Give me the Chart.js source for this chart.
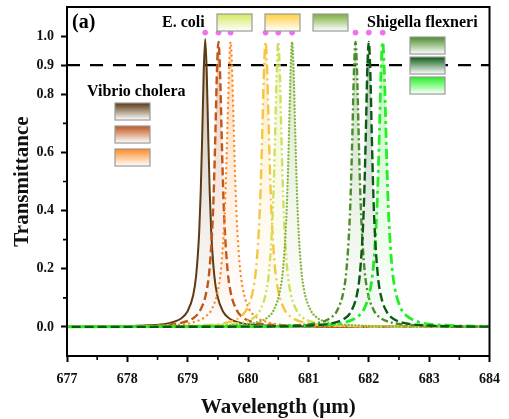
<!DOCTYPE html>
<html>
<head>
<meta charset="utf-8">
<script src="https://cdn.jsdelivr.net/npm/chart.js@4.4.1/dist/chart.umd.min.js"></script>
<style>
  html, body { margin: 0; padding: 0; background: #fff; }
  #wrap { width: 509px; height: 419px; position: relative; }
</style>
</head>
<body>
<div id="wrap"><canvas id="transChart"></canvas></div>
<script>
// wavelength offsets (um) around each resonance, shared by all curves
const offsets = [-6, -2, -1, -0.6, -0.4, -0.3, -0.2, -0.15, -0.1, -0.075, -0.05, -0.025, 0,
                 0.025, 0.05, 0.075, 0.1, 0.15, 0.2, 0.3, 0.4, 0.6, 1, 2, 6];

// resonance centres (um)
const peakCenters = [679.29, 679.51, 679.71, 680.29, 680.50, 680.73, 681.78, 682.00, 682.23];

// transmittance values for each curve
const vibrio1 = [0, 0.001, 0.005, 0.013, 0.029, 0.051, 0.108, 0.177, 0.326, 0.461, 0.656, 0.878, 0.99,
                 0.878, 0.656, 0.461, 0.326, 0.177, 0.108, 0.051, 0.029, 0.013, 0.005, 0.001, 0];
const vibrio2 = [0, 0.001, 0.006, 0.015, 0.033, 0.058, 0.121, 0.196, 0.353, 0.49, 0.679, 0.882, 0.98,
                 0.882, 0.679, 0.49, 0.353, 0.196, 0.121, 0.058, 0.033, 0.015, 0.006, 0.001, 0];
const vibrio3 = [0, 0.002, 0.006, 0.017, 0.038, 0.065, 0.135, 0.217, 0.382, 0.522, 0.705, 0.893, 0.98,
                 0.893, 0.705, 0.522, 0.382, 0.217, 0.135, 0.065, 0.038, 0.017, 0.006, 0.002, 0];
const ecoli1 = [0, 0.002, 0.006, 0.017, 0.038, 0.065, 0.135, 0.217, 0.382, 0.522, 0.705, 0.893, 0.98,
                0.893, 0.705, 0.522, 0.382, 0.217, 0.135, 0.065, 0.038, 0.017, 0.006, 0.002, 0];
const ecoli2 = [0, 0.001, 0.006, 0.015, 0.033, 0.058, 0.121, 0.196, 0.353, 0.49, 0.679, 0.882, 0.98,
                0.882, 0.679, 0.49, 0.353, 0.196, 0.121, 0.058, 0.033, 0.015, 0.006, 0.001, 0];
const ecoli3 = [0, 0.001, 0.006, 0.015, 0.034, 0.060, 0.125, 0.200, 0.358, 0.495, 0.683, 0.884, 0.98,
                0.884, 0.683, 0.495, 0.358, 0.200, 0.125, 0.060, 0.034, 0.015, 0.006, 0.001, 0];
const shigella1 = [0, 0.001, 0.006, 0.015, 0.033, 0.058, 0.121, 0.196, 0.353, 0.49, 0.679, 0.882, 0.98,
                   0.882, 0.679, 0.49, 0.353, 0.196, 0.121, 0.058, 0.033, 0.015, 0.006, 0.001, 0];
const shigella2 = [0, 0.001, 0.005, 0.013, 0.029, 0.051, 0.108, 0.177, 0.326, 0.461, 0.656, 0.878, 0.98,
                   0.878, 0.656, 0.461, 0.326, 0.177, 0.108, 0.051, 0.029, 0.013, 0.005, 0.001, 0];
const shigella3 = [0, 0.002, 0.006, 0.017, 0.038, 0.065, 0.135, 0.217, 0.382, 0.522, 0.705, 0.893, 0.98,
                   0.893, 0.705, 0.522, 0.382, 0.217, 0.135, 0.065, 0.038, 0.017, 0.006, 0.002, 0];

const markerLevel = 1.012;
const yTickLabels = [0.0, 0.2, 0.4, 0.6, 0.8, 0.9, 1.0];
const xMinorTicks = [677.5, 678.5, 679.5, 680.5, 681.5, 682.5, 683.5];
const yMinorTicks = [0.1, 0.3, 0.5, 0.7];
const thresholdLevel = 0.9;

const seriesValues = [vibrio1, vibrio2, vibrio3, ecoli1, ecoli2, ecoli3, shigella1, shigella2, shigella3];
const seriesColors = ['#5c3a12', '#c0561a', '#ff8a24', '#f5c542', '#d2df5c', '#86b545', '#4a8c2a', '#0b5a14', '#24ee24'];
const seriesDash = [[], [8, 4], [0.01, 5], [10, 4, 2, 4], [8, 3, 2, 3, 2, 3], [0.01, 3.4], [7, 3, 2, 3], [9, 4], [10, 4, 3, 4]];
// draw order: lower number ends up on top (bright green baseline visible)
const seriesOrder = [10, 9, 8, 7, 6, 5, 4, 2, 3];

const legendGroups = [
    { label: 'Vibrio cholera', colors: ['#5c3a12', '#c0561a', '#ff8a24'] },
    { label: 'E. coli', colors: ['#d4e860', '#ffd040', '#7aae3c'] },
    { label: 'Shigella flexneri', colors: ['#4a8c2a', '#0b5a14', '#22f022'] }
];

const serif = "'Liberation Serif', 'Times New Roman', serif";

function hexA(hex, a) {
    const n = parseInt(hex.slice(1), 16);
    return 'rgba(' + (n >> 16) + ',' + ((n >> 8) & 255) + ',' + (n & 255) + ',' + a + ')';
}

function fillGradient(color) {
    return (ctx) => {
        const chart = ctx.chart;
        const area = chart.chartArea;
        if (!area) return null;
        const y = chart.scales.y;
        const g = chart.ctx.createLinearGradient(0, y.getPixelForValue(1.0), 0, y.getPixelForValue(0));
        g.addColorStop(0, hexA(color, 0.35));
        g.addColorStop(0.6, hexA(color, 0.1));
        g.addColorStop(1, hexA(color, 0.0));
        return g;
    };
}

const datasets = seriesValues.map((vals, i) => ({
    data: offsets.map((d, k) => ({ x: peakCenters[i] + d, y: vals[k] })),
    order: seriesOrder[i],
    borderColor: seriesColors[i],
    borderWidth: i === 0 ? 2 : (i === 8 ? 2.8 : 2.4),
    borderDash: seriesDash[i],
    borderCapStyle: (i === 2 || i === 5) ? 'round' : 'butt',
    backgroundColor: fillGradient(seriesColors[i]),
    fill: 'origin',
    cubicInterpolationMode: 'monotone',
    pointRadius: 0
}));

// the overlapping baselines read as one bright green line in the figure
datasets[8].segment = {
    borderDash: ctx => (ctx.p0.parsed.y <= 0.002 && ctx.p1.parsed.y <= 0.002) ? [] : undefined
};

datasets.push({
    data: peakCenters.map(c => ({ x: c, y: markerLevel })),
    order: 0,
    showLine: false,
    pointRadius: 2.6,
    pointBackgroundColor: '#f070f0',
    pointBorderColor: '#e860e8',
    pointBorderWidth: 0.5
});

const decorPlugin = {
    id: 'decor',
    beforeDatasetsDraw(chart) {
        const { ctx, chartArea: a, scales: { y } } = chart;
        const py = y.getPixelForValue(thresholdLevel);
        ctx.save();
        ctx.strokeStyle = '#000';
        ctx.lineWidth = 2.2;
        ctx.setLineDash([13, 10]);
        ctx.beginPath();
        ctx.moveTo(a.left, py);
        ctx.lineTo(a.right, py);
        ctx.stroke();
        ctx.restore();
    },
    afterDatasetsDraw(chart) {
        const { ctx, chartArea: a, scales: { x, y } } = chart;
        ctx.save();
        // frame
        ctx.strokeStyle = '#000';
        ctx.lineWidth = 2;
        ctx.strokeRect(a.left, a.top, a.right - a.left, a.bottom - a.top);
        // minor ticks
        ctx.lineWidth = 1.6;
        ctx.beginPath();
        xMinorTicks.forEach(v => {
            const px = x.getPixelForValue(v);
            ctx.moveTo(px, a.bottom);
            ctx.lineTo(px, a.bottom + 4);
        });
        yMinorTicks.forEach(v => {
            const py = y.getPixelForValue(v);
            ctx.moveTo(a.left, py);
            ctx.lineTo(a.left - 4, py);
        });
        ctx.stroke();

        // panel tag
        ctx.fillStyle = '#000';
        ctx.font = 'bold 20px ' + serif;
        ctx.textBaseline = 'middle';
        ctx.textAlign = 'left';
        ctx.fillText('(a)', a.left + 5, a.top + 16);

        // legend boxes
        const box = (bx, by, color) => {
            const g = ctx.createLinearGradient(0, by, 0, by + 17);
            g.addColorStop(0, color);
            g.addColorStop(1, '#ffffff');
            ctx.fillStyle = g;
            ctx.fillRect(bx, by, 35, 17);
            ctx.strokeStyle = '#9a9a9a';
            ctx.lineWidth = 1.2;
            ctx.strokeRect(bx, by, 35, 17);
        };
        ctx.font = 'bold 16px ' + serif;
        ctx.textAlign = 'left';

        const vc = legendGroups[0];
        ctx.fillStyle = '#000';
        ctx.fillText(vc.label, a.left + 20, a.top + 85);
        vc.colors.forEach((c, i) => box(a.left + 48, a.top + 96 + i * 23, c));

        const ec = legendGroups[1];
        ctx.fillStyle = '#000';
        ctx.fillText(ec.label, a.left + 95, a.top + 16);
        ec.colors.forEach((c, i) => box(a.left + 150 + i * 48, a.top + 7, c));

        const sf = legendGroups[2];
        ctx.fillStyle = '#000';
        ctx.fillText(sf.label, a.left + 300, a.top + 16);
        sf.colors.forEach((c, i) => box(a.left + 343, a.top + 30 + i * 20, c));
        ctx.restore();
    }
};

new Chart(document.getElementById('transChart').getContext('2d'), {
    type: 'line',
    data: { datasets: datasets },
    options: {
        responsive: true,
        maintainAspectRatio: false,
        animation: false,
        layout: { padding: { left: 0, top: 7, right: 16, bottom: 0 } },
        plugins: {
            legend: { display: false },
            tooltip: { enabled: false }
        },
        scales: {
            x: {
                type: 'linear',
                min: 677,
                max: 684,
                afterFit(scale) { scale.height = 63; },
                ticks: {
                    stepSize: 1,
                    padding: 9,
                    color: '#111',
                    font: { family: serif, size: 14, weight: 'bold' },
                    callback: v => v.toFixed(0)
                },
                grid: { drawOnChartArea: false, drawTicks: true, tickLength: 6, tickWidth: 2, tickColor: '#000' },
                border: { display: true, color: '#000', width: 2 },
                title: {
                    display: true,
                    text: 'Wavelength (μm)',
                    color: '#111',
                    font: { family: serif, size: 21, weight: 'bold', lineHeight: 1.2 },
                    padding: { top: 0, bottom: -1 }
                }
            },
            y: {
                type: 'linear',
                min: -0.1,
                max: 1.1,
                afterFit(scale) {
                    scale.width = 67;
                    scale.paddingTop = 0;
                    scale.paddingBottom = 0;
                },
                afterBuildTicks(scale) { scale.ticks = yTickLabels.map(v => ({ value: v })); },
                ticks: {
                    padding: 7,
                    color: '#111',
                    font: { family: serif, size: 14, weight: 'bold' },
                    callback: v => v.toFixed(1)
                },
                grid: { drawOnChartArea: false, drawTicks: true, tickLength: 6, tickWidth: 2, tickColor: '#000' },
                border: { display: true, color: '#000', width: 2 },
                title: {
                    display: true,
                    text: 'Transmittance',
                    color: '#111',
                    font: { family: serif, size: 21, weight: 'bold', lineHeight: 1.2 },
                    padding: { top: 10, bottom: 0 }
                }
            }
        }
    },
    plugins: [decorPlugin]
});
</script>
</body>
</html>
